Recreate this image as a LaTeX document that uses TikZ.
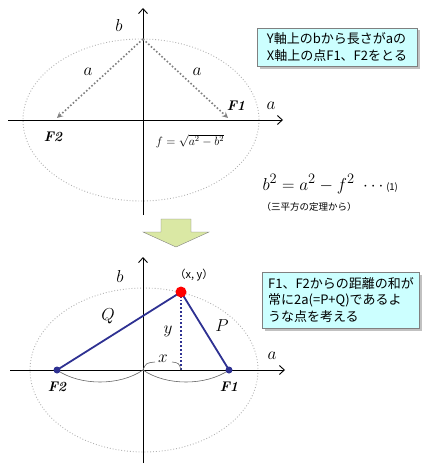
\documentclass[tikz,border=0pt]{standalone}
\usepackage{fontspec}
\usepackage{amsmath}
\newfontfamily\jpfont{Noto Sans CJK JP}
\usetikzlibrary{positioning,arrows,arrows.meta,shadows,calc}
\definecolor{notefill}{RGB}{204,255,255}
\definecolor{arrowfill}{RGB}{218,232,164}
\definecolor{lineblue}{RGB}{46,49,146}

\begin{document}
\begin{tikzpicture}[x=1pt,y=-1pt]
	\tikzset{>={Straight Barb[length=5pt,width=9pt]},
		axis/.style={->,line width=0.9pt},
		orbit/.style={gray!60,dotted,line width=0.9pt},
		lbl/.style={font=\fontsize{17}{17}\selectfont},
		focus/.style={font=\fontsize{14}{14}\selectfont\bfseries\itshape},
		notebox/.style={draw=gray,fill=notefill,align=left,inner sep=5pt,
			font=\jpfont\fontsize{13}{16.5}\selectfont,
			drop shadow={shadow xshift=2.5pt,shadow yshift=-2.5pt,fill=gray!70,opacity=0.7}}}
	\useasboundingbox (0,0) rectangle (430,473);

	% upper figure
	\draw[orbit] (141,120) ellipse [x radius=118, y radius=81];
	\draw[axis] (8,120) -- (283,120) coordinate (X1);
	\draw[axis] (143,215) -- (143,8) coordinate (Y1);
	\coordinate (B) at (143,39);
	\coordinate (F2a) at (57,118);
	\coordinate (F1a) at (228,118);
	\draw[-stealth,gray,dotted,line width=1.6pt] (B) -- (F2a);
	\draw[-stealth,gray,dotted,line width=1.6pt] (B) -- (F1a);

	\node[lbl] (b1) at (119,26) {$b$};
	\node[lbl] (a1) at (88,72) {$a$};
	\node[lbl] (a2) at (197,72) {$a$};
	\node[lbl] (a3) at (271,106) {$a$};
	\node[focus] (F1lbl) at (236,106) {F1};
	\node[focus] (F2lbl) at (53,137) {F2};
	\node[font=\fontsize{12}{12}\selectfont] (fdef) at (190,141) {$f=\sqrt{a^2-b^2}$};

	\node[notebox,minimum width=160,minimum height=37] (note1) at (337,47)
		{Y軸上のbから長さがaの\\X軸上の点F1、F2をとる};
	\node[anchor=west] (eq) at (259,184)
		{\fontsize{19}{19}\selectfont$b^2=a^2-f^2\ \cdots$\jpfont\fontsize{9.5}{9.5}\selectfont(1)};
	\node[anchor=west,font=\jpfont\fontsize{9.5}{9.5}\selectfont] (why) at (258,207) {（三平方の定理から）};

	% arrow down
	\draw[gray,fill=arrowfill] (161,219) -- (191,219) -- (191,232) -- (209,232)
		-- (176,247) -- (143,232) -- (161,232) -- cycle;

	% lower figure
	\draw[orbit] (144,370) ellipse [x radius=114, y radius=82];
	\draw[axis] (10,370) -- (285,370) coordinate (X2);
	\draw[axis] (143,463) -- (143,257) coordinate (Y2);
	\coordinate (O) at (143,370);
	\coordinate (F2) at (57,370);
	\coordinate (F1) at (229,370);
	\coordinate (P) at (181,292);
	\coordinate (H) at (181,370);

	\draw[lineblue,line width=1.8pt] (F2) -- (P) -- (F1);
	\draw[lineblue,dotted,line width=1.8pt] (P) -- (H);
	\draw[gray!80!black,line width=0.6pt] (F2) .. controls (80,386) and (120,386) .. (O);
	\draw[gray!80!black,line width=0.6pt] (O) .. controls (166,386) and (206,386) .. (F1);
	\draw[gray!80!black,line width=0.6pt] (O) .. controls (146,363) .. (155,362);
	\draw[gray!80!black,line width=0.6pt] (172,362) .. controls (179,363) .. (H);
	\fill[lineblue] (F2) circle (3.5);
	\fill[lineblue] (F1) circle (3.5);
	\fill[red] (P) circle (5.5);

	\node[lbl] (b2) at (120,276) {$b$};
	\node[font=\jpfont\fontsize{11}{11}\selectfont] (Plbl) at (194,275) {（x, y）};
	\node[lbl] (Q) at (108,316) {$Q$};
	\node[lbl] (Pl) at (222,326) {$P$};
	\node[lbl] (ylbl) at (168,331) {$y$};
	\node[lbl] (xlbl) at (163,359) {$x$};
	\node[lbl] (a4) at (272,356) {$a$};
	\node[focus] (F2b) at (57,387) {F2};
	\node[focus] (F1b) at (229,387) {F1};

	\node[notebox,minimum width=157,minimum height=56] (note2) at (341,300)
		{F1、F2からの距離の和が\\常に2a(=P+Q)であるよ\\うな点を考える};
\end{tikzpicture}
\end{document}
